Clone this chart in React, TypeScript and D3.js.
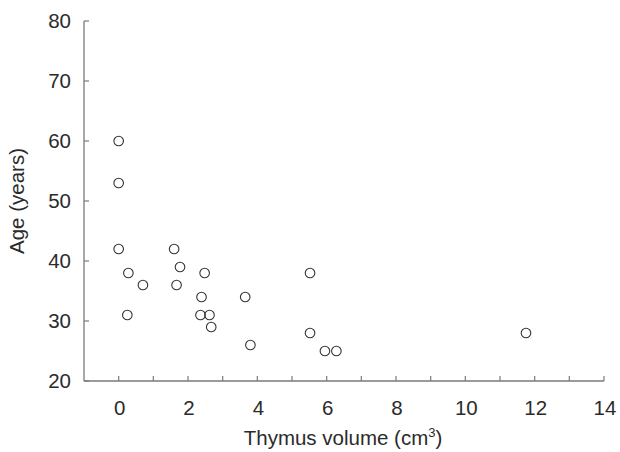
import * as d3 from "d3";
import { useEffect, useRef } from "react";

const thymusVolume = [0, 0, 0, 1.6, 1.77, 0.28, 2.48, 0.7, 1.67, 2.39, 3.65, 0.25, 2.36, 2.62, 2.67, 3.8, 5.52, 5.52, 5.95, 6.28, 11.75];
const age = [60, 53, 42, 42, 39, 38, 38, 36, 36, 34, 34, 31, 31, 31, 29, 26, 38, 28, 25, 25, 28];

const xTicks = [0, 2, 4, 6, 8, 10, 12, 14];
const xMinorTicks = d3.range(0, 15);
const yTicks = [20, 30, 40, 50, 60, 70, 80];

const width = 620;
const height = 452;
const font = "'Liberation Sans', Arial, Helvetica, sans-serif";
const fontSize = 20.5;

export default function App() {
  const svgRef = useRef<SVGSVGElement>(null);

  useEffect(() => {
    const svg = d3.select(svgRef.current).attr("width", width).attr("height", height);
    svg.selectAll("*").remove();

    const x = d3.scaleLinear().domain([-1, 14]).range([84, 604]);
    const y = d3.scaleLinear().domain([20, 80]).range([381, 21]);

    svg.append("rect").attr("width", width).attr("height", height).attr("fill", "#fff");

    const axisColor = "#7a7a7a";
    const textColor = "#2b2b2b";

    // y axis
    svg.append("line")
      .attr("x1", x(-1)).attr("x2", x(-1))
      .attr("y1", y(80)).attr("y2", y(20))
      .attr("stroke", axisColor).attr("stroke-width", 1.3);

    svg.append("g")
      .selectAll("line")
      .data(yTicks)
      .join("line")
      .attr("x1", x(-1)).attr("x2", x(-1) + 5)
      .attr("y1", d => y(d)).attr("y2", d => y(d))
      .attr("stroke", axisColor).attr("stroke-width", 1.2);

    svg.append("g")
      .selectAll("text")
      .data(yTicks)
      .join("text")
      .attr("x", 71)
      .attr("y", d => y(d) + 7)
      .attr("text-anchor", "end")
      .attr("font-family", font)
      .attr("font-size", fontSize)
      .attr("fill", textColor)
      .text(d => d);

    // x axis
    svg.append("line")
      .attr("x1", x(-1)).attr("x2", x(14))
      .attr("y1", y(20)).attr("y2", y(20))
      .attr("stroke", axisColor).attr("stroke-width", 1.3);

    svg.append("g")
      .selectAll("line")
      .data(xMinorTicks)
      .join("line")
      .attr("x1", d => x(d)).attr("x2", d => x(d))
      .attr("y1", y(20)).attr("y2", y(20) - 5)
      .attr("stroke", axisColor).attr("stroke-width", 1.2);

    svg.append("g")
      .selectAll("text")
      .data(xTicks)
      .join("text")
      .attr("x", d => x(d) + 1)
      .attr("y", 415)
      .attr("text-anchor", "middle")
      .attr("font-family", font)
      .attr("font-size", fontSize)
      .attr("fill", textColor)
      .text(d => d);

    // axis titles
    const xTitle = svg.append("text")
      .attr("x", 343)
      .attr("y", 445)
      .attr("text-anchor", "middle")
      .attr("font-family", font)
      .attr("font-size", fontSize)
      .attr("fill", textColor);
    xTitle.append("tspan").text("Thymus volume (cm");
    xTitle.append("tspan").attr("font-size", 13).attr("dy", -8).text("3");
    xTitle.append("tspan").attr("dy", 8).text(")");

    svg.append("text")
      .attr("transform", `translate(24,${y(50)}) rotate(-90)`)
      .attr("text-anchor", "middle")
      .attr("font-family", font)
      .attr("font-size", fontSize)
      .attr("fill", textColor)
      .text("Age (years)");

    // points
    const points = thymusVolume.map((v, i) => ({ v, a: age[i] }));
    svg.append("g")
      .selectAll("circle")
      .data(points)
      .join("circle")
      .attr("cx", d => x(d.v))
      .attr("cy", d => y(d.a))
      .attr("r", 4.8)
      .attr("fill", "none")
      .attr("stroke", "#333")
      .attr("stroke-width", 1.1);
  }, []);

  return <svg ref={svgRef} style={{ position: "absolute", left: 0, top: 0, display: "block" }}></svg>;
}
